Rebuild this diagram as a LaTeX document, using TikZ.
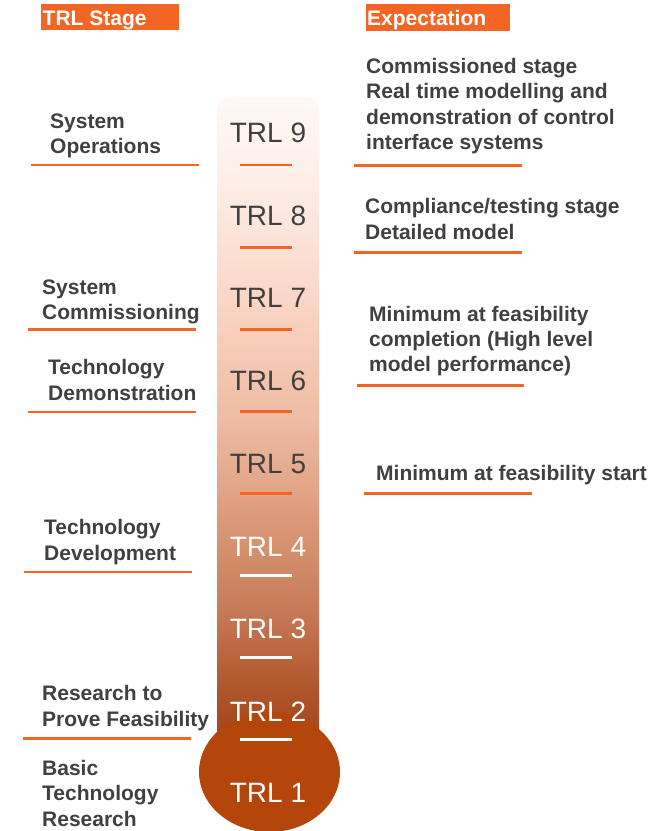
\documentclass[tikz,border=0pt]{standalone}
\usepackage{fontspec}
\setmainfont{Liberation Sans}
\usetikzlibrary{shapes.geometric}

\definecolor{accent}{HTML}{F26522}
\definecolor{ink}{HTML}{404040}
\definecolor{bulb}{HTML}{B4460C}
% colour stops of the thermometer bar, bottom to top
\definecolor{s0}{HTML}{A0401A}
\definecolor{s1}{HTML}{A84A20}
\definecolor{s2}{HTML}{B2592F}
\definecolor{s3}{HTML}{BE6C47}
\definecolor{s4}{HTML}{C97E5B}
\definecolor{s5}{HTML}{D48F6D}
\definecolor{s6}{HTML}{E2A487}
\definecolor{s7}{HTML}{EEBBA3}
\definecolor{s8}{HTML}{F7CDB9}
\definecolor{s9}{HTML}{FBDFD2}
\definecolor{s10}{HTML}{FDEEE7}
\definecolor{s11}{HTML}{FFF9F6}

\pgfdeclareverticalshading{trlbar}{100bp}{%
  color(0bp)=(s0); color(25bp)=(s0); color(28bp)=(s1); color(31bp)=(s2);
  color(34bp)=(s3); color(37bp)=(s4); color(40.8bp)=(s5); color(45.4bp)=(s6);
  color(50.6bp)=(s7); color(56.7bp)=(s8); color(62.7bp)=(s9); color(68.7bp)=(s10);
  color(75bp)=(s11); color(100bp)=(s11)}

% multi-line labels are placed by the baseline of their last line
\tikzset{
  label/.style={anchor=base west, inner sep=0pt, align=left, text=ink,
    font=\fontsize{21}{25.3}\selectfont\bfseries},
  header/.style={anchor=base west, inner sep=0pt, text=white,
    font=\fontsize{21}{25.3}\selectfont\bfseries},
  level/.style={anchor=base, inner sep=0pt, font=\fontsize{28}{30}\selectfont},
  darklevel/.style={level, text=ink},
  lightlevel/.style={level, text=white},
  underline/.style={draw=accent, line width=2.6pt},
  tick/.style={line width=2.6pt},
}

\begin{document}
\begin{tikzpicture}[x=1pt,y=-1pt]
\useasboundingbox (0,0) rectangle (667,831);

% column headers
\fill[accent] (41,4) rectangle (179,30);
\fill[accent] (366,4) rectangle (510,31);
\node[header] (hstage) at (42.5,25) {TRL Stage};
\node[header] (hexp) at (367,25) {Expectation};

% thermometer bar and bulb
\shade[shading=trlbar, rounded corners=12pt] (217,760) rectangle (319,97);
\fill[bulb] (269.5,772) ellipse [x radius=70.5, y radius=60];

% level ticks
\foreach \y in {165,247.5,329.3,411.3,493.3}
  \draw[tick, accent] (240,\y) -- (292,\y);
\foreach \y in {575.3,657.7,739.3}
  \draw[tick, white] (240,\y) -- (292,\y);

% level labels
\node[darklevel] (t9) at (268,142.3) {TRL 9};
\node[darklevel] (t8) at (268,225) {TRL 8};
\node[darklevel] (t7) at (268,307.7) {TRL 7};
\node[darklevel] (t6) at (268,390.7) {TRL 6};
\node[darklevel] (t5) at (268,473.3) {TRL 5};
\node[lightlevel] (t4) at (268,556.7) {TRL 4};
\node[lightlevel] (t3) at (268,638.5) {TRL 3};
\node[lightlevel] (t2) at (268,721) {TRL 2};
\node[lightlevel] (t1) at (268,802) {TRL 1};

% stage names
\node[label] (st9) at (50,153.3) {System\\Operations};
\node[label] (st7) at (42,319.3) {System\\Commissioning};
\node[label] (st6) at (48,400) {Technology\\Demonstration};
\node[label] (st4) at (44,560) {Technology\\Development};
\node[label] (st2) at (42,726) {Research to\\Prove Feasibility};
\node[label] (st1) at (42,826) {Basic\\Technology\\Research};

\draw[underline] (31,165) -- (199,165);
\draw[underline] (28,329.3) -- (196,329.3);
\draw[underline] (28,412) -- (196,412);
\draw[underline] (24,572) -- (192,572);
\draw[underline] (23,738.3) -- (191,738.3);

% expectations
\node[label] (ex9) at (366,149.3) {Commissioned stage\\Real time modelling and\\demonstration of control\\interface systems};
\node[label] (ex8) at (365,239) {Compliance/testing stage\\Detailed model};
\node[label] (ex7) at (369,371.7) {Minimum at feasibility\\completion (High level\\model performance)};
\node[label] (ex5) at (376,480.7) {Minimum at feasibility start};

\draw[underline] (354,165.7) -- (522,165.7);
\draw[underline] (354,252.3) -- (522,252.3);
\draw[underline] (357,385.7) -- (524,385.7);
\draw[underline] (364,493.3) -- (532,493.3);
\end{tikzpicture}
\end{document}
